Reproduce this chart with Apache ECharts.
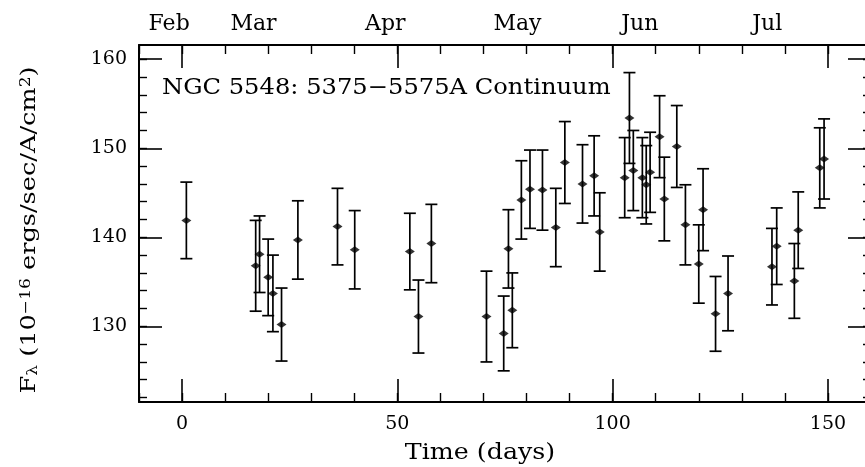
<!DOCTYPE html>
<html>
<head>
<meta charset="utf-8">
<script src="https://cdn.jsdelivr.net/npm/echarts@6/dist/echarts.min.js"></script>
<style>
  html, body { margin: 0; padding: 0; background: #fff; }
  #chart { width: 865px; height: 467px; }
</style>
</head>
<body>
<div id="chart"></div>
<script>
// NGC 5548 continuum light curve
var days = [1.0, 17.1, 18.0, 20.0, 21.1, 23.1, 26.9, 36.1, 40.1, 52.9,
    54.9, 57.9, 70.7, 74.7, 75.8, 76.7, 78.8, 80.8, 83.7, 86.8,
    88.9, 93.0, 95.7, 97.0, 102.8, 103.9, 104.8, 106.9, 107.8, 108.7,
    110.9, 112.0, 114.9, 116.9, 120.0, 121.0, 123.9, 126.8, 137.0, 138.1,
    142.2, 143.1, 148.1, 149.1];
var flux = [141.9, 136.8, 138.1, 135.5, 133.7, 130.2, 139.7, 141.2, 138.6, 138.4,
    131.1, 139.3, 131.1, 129.2, 138.7, 131.8, 144.2, 145.4, 145.3, 141.1,
    148.4, 146.0, 146.9, 140.6, 146.7, 153.4, 147.5, 146.7, 145.9, 147.3,
    151.3, 144.3, 150.2, 141.4, 137.0, 143.1, 131.4, 133.7, 136.7, 139.0,
    135.1, 140.8, 147.8, 148.8];
var fluxErr = [4.3, 5.1, 4.3, 4.3, 4.3, 4.1, 4.4, 4.3, 4.4, 4.3,
    4.1, 4.4, 5.1, 4.2, 4.4, 4.2, 4.4, 4.4, 4.5, 4.4,
    4.6, 4.4, 4.5, 4.4, 4.5, 5.1, 4.5, 4.5, 4.4, 4.5,
    4.6, 4.7, 4.6, 4.5, 4.4, 4.6, 4.2, 4.2, 4.3, 4.3,
    4.2, 4.3, 4.5, 4.5];

var monthNames = ["Feb", "Mar", "Apr", "May", "Jun", "Jul"];
var monthDays = [-3, 16.6, 47.2, 77.9, 106.3, 135.9];

var xMajor = [0, 50, 100, 150];
var yMajor = [130, 140, 150, 160];
var yMinor = [122, 124, 126, 128, 130, 132, 134, 136, 138, 140, 142, 144, 146, 148,
    150, 152, 154, 156, 158, 160];

var FONT = "DejaVu Serif";
var rows = days.map(function (d, i) { return [d, flux[i], fluxErr[i]]; });

var chart = echarts.init(document.getElementById("chart"));

function xAx(pos, major, withLine) {
    return {
        type: "value", position: pos, min: -10, max: 160,
        interval: major ? undefined : 10,
        axisLine: { show: withLine, onZero: false, lineStyle: { color: "#000", width: 2 } },
        axisTick: major
            ? { inside: true, length: 23, customValues: xMajor, lineStyle: { color: "#000", width: 1.6 } }
            : { inside: true, length: 9, lineStyle: { color: "#000", width: 1.4 } },
        axisLabel: { show: false },
        splitLine: { show: false }
    };
}
function yAx(pos, major, withLine) {
    return {
        type: "value", position: pos, min: 121.5, max: 161.6,
        axisLine: { show: withLine, onZero: false, lineStyle: { color: "#000", width: 2 } },
        axisTick: { inside: true, length: major ? 23 : 8, customValues: major ? yMajor : yMinor,
            lineStyle: { color: "#000", width: major ? 1.6 : 1.4 } },
        axisLabel: { show: false },
        splitLine: { show: false }
    };
}

var xBottom = xAx("bottom", true, true);
xBottom.axisLabel = {
    show: true, customValues: xMajor, margin: 13,
    color: "#000", fontFamily: FONT, fontSize: 19
};
var xTop = xAx("top", true, true);
xTop.axisLabel = {
    show: true, customValues: monthDays, margin: 10,
    color: "#000", fontFamily: FONT, fontSize: 22,
    formatter: function (v) {
        var i = monthDays.indexOf(v);
        return i >= 0 ? monthNames[i] : "";
    }
};
var yLeft = yAx("left", true, true);
yLeft.axisLabel = {
    show: true, customValues: yMajor, margin: 12,
    color: "#000", fontFamily: FONT, fontSize: 19
};

chart.setOption({
    animation: false,
    backgroundColor: "#fff",
    grid: { left: 139, right: -6, top: 45, bottom: 65, outerBoundsMode: "none" },
    xAxis: [xBottom, xAx("bottom", false, false), xTop, xAx("top", false, false)],
    yAxis: [yLeft, yAx("left", false, false), yAx("right", true, true), yAx("right", false, false)],
    graphic: [
        {
            type: "text", x: 162, y: 88, scaleX: 1.1,
            style: { text: "NGC 5548: 5375\u22125575A Continuum", fill: "#000",
                font: "22px " + FONT, verticalAlign: "middle" }
        },
        {
            type: "text", x: 480, y: 453, scaleX: 1.15,
            style: { text: "Time (days)", fill: "#000", font: "22px " + FONT,
                align: "center", verticalAlign: "middle" }
        },
        {
            type: "text", x: 30, y: 230, rotation: Math.PI / 2, scaleX: 1.22,
            style: {
                text: "F{sub|\u03bb} (10{sup|\u221216} ergs/sec/A/cm{sup|2})",
                fill: "#000", font: "21px " + FONT,
                align: "center", verticalAlign: "middle",
                rich: {
                    sub: { fontFamily: FONT, fontSize: 14, fill: "#000", verticalAlign: "bottom", lineHeight: 14, padding: [10, 0, 0, 0] },
                    sup: { fontFamily: FONT, fontSize: 14, fill: "#000", verticalAlign: "top", lineHeight: 14, padding: [0, 0, 10, 0] }
                }
            }
        }
    ],
    series: [
        {
            type: "custom",
            xAxisIndex: 0, yAxisIndex: 0,
            data: rows,
            renderItem: function (params, api) {
                var x = api.value(0), y = api.value(1), e = api.value(2);
                var top = api.coord([x, y + e]);
                var bot = api.coord([x, y - e]);
                var w = 6;
                var st = { stroke: "#000", lineWidth: 1.7 };
                return {
                    type: "group",
                    children: [
                        { type: "line", shape: { x1: top[0], y1: top[1], x2: bot[0], y2: bot[1] }, style: st },
                        { type: "line", shape: { x1: top[0] - w, y1: top[1], x2: top[0] + w, y2: top[1] }, style: st },
                        { type: "line", shape: { x1: bot[0] - w, y1: bot[1], x2: bot[0] + w, y2: bot[1] }, style: st }
                    ]
                };
            },
            z: 2
        },
        {
            type: "scatter",
            xAxisIndex: 0, yAxisIndex: 0,
            data: rows,
            symbol: "diamond",
            symbolSize: [10, 7],
            itemStyle: { color: "#000" },
            z: 3
        }
    ]
});
</script>
</body>
</html>
